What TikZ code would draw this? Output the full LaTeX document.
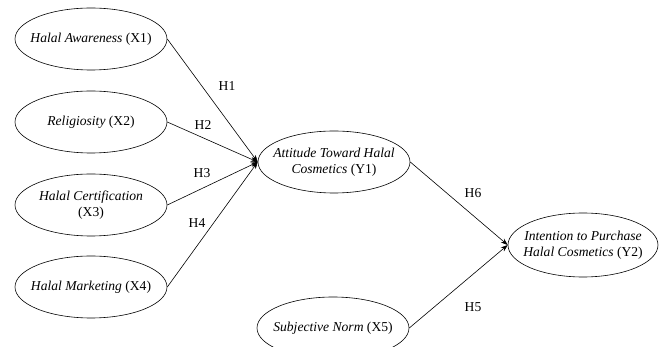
\documentclass[tikz,border=0pt]{standalone}
\usepackage{fontspec}
\setmainfont{Liberation Serif}
\usetikzlibrary{shapes.geometric,arrows.meta}
\begin{document}
\begin{tikzpicture}[x=1pt,y=-1pt,
  var/.style={draw,ellipse,minimum width=152pt,minimum height=62pt,inner sep=0pt,line width=0.6pt},
  vt/.style={align=center,font=\fontsize{13.6}{16.5}\selectfont,inner sep=0pt},
  link/.style={line width=0.6pt,-{Stealth[length=7pt,width=5pt]}},
  hlab/.style={font=\fontsize{13.6}{16}\selectfont}]
\useasboundingbox (0,0) rectangle (665,347);
\begin{scope}
\clip (0,0) rectangle (665,347);
\node[var,label={[vt]center:{\textit{Halal Awareness} (X1)}}] (x1) at (91,39) {};
\node[var,label={[vt]center:{\textit{Religiosity} (X2)}}] (x2) at (91,122) {};
\node[var,label={[vt]center:{\textit{Halal Certification}\\(X3)}}] (x3) at (91,205) {};
\node[var,label={[vt]center:{\textit{Halal Marketing} (X4)}}] (x4) at (91,287) {};
\node[var,label={[vt]center:{\textit{Attitude Toward Halal}\\\textit{Cosmetics} (Y1)}}] (y1) at (334,162) {};
\node[var,minimum width=150pt,minimum height=64pt,label={[vt]center:{\textit{Intention to Purchase}\\\textit{Halal Cosmetics} (Y2)}}] (y2) at (583,245) {};
\node[var,label={[vt]center:{\textit{Subjective Norm} (X5)}}] (x5) at (333,328) {};
\end{scope}
\draw[link] (x1.east) -- (y1.west);
\draw[link] (x2.east) -- (y1.west);
\draw[link] (x3.east) -- (y1.west);
\draw[link] (x4.east) -- (y1.west);
\draw[link] (y1.east) -- (y2.west);
\draw[link] (x5.east) -- (y2.west);
\node[hlab] (h1) at (227,86) {H1};
\node[hlab] (h2) at (203,125) {H2};
\node[hlab] (h3) at (202,173) {H3};
\node[hlab] (h4) at (197,223) {H4};
\node[hlab] (h6) at (473,193) {H6};
\node[hlab] (h5) at (473,307) {H5};
\end{tikzpicture}
\end{document}
